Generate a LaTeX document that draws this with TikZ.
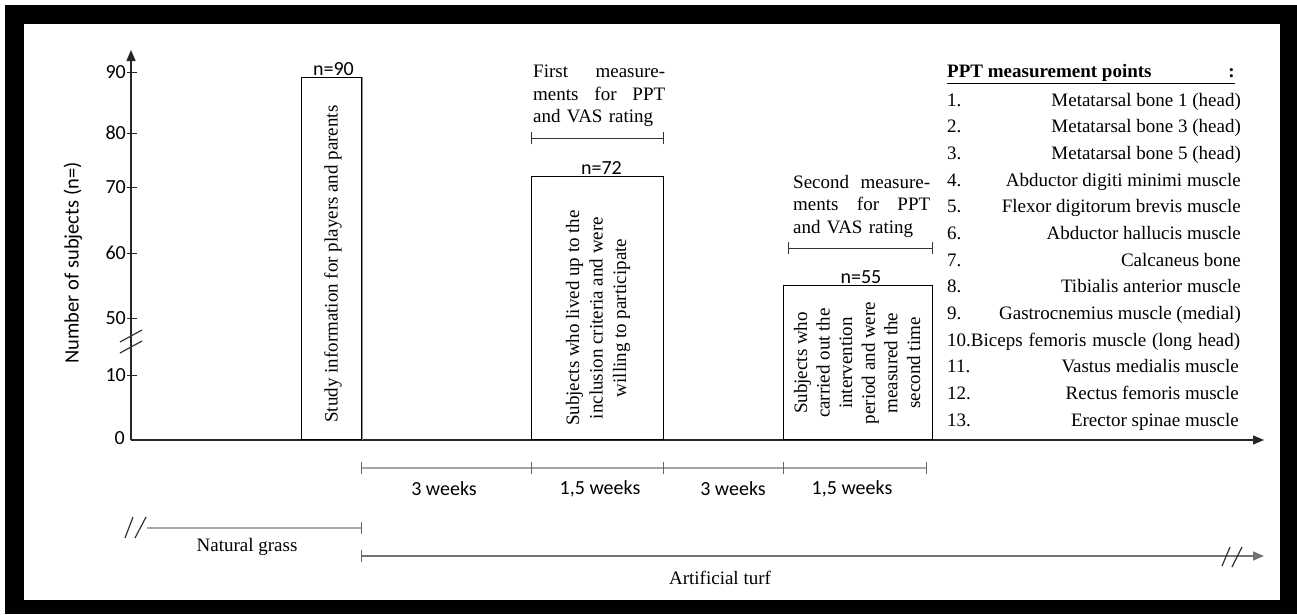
\documentclass[tikz,border=0pt]{standalone}
\usepackage{fontspec}
\setmainfont{Liberation Serif}
\newfontfamily\carl{Carlito}
\usetikzlibrary{arrows.meta}
\begin{document}
\begin{tikzpicture}[x=1pt,y=-1pt,
  serif/.style={font=\fontsize{19}{23}\selectfont, inner sep=0pt},
  sans/.style={font=\carl\fontsize{20}{24}\selectfont, inner sep=0pt},
  barbox/.style={draw=black, line width=1pt, minimum width=#1, inner sep=0pt, anchor=south west},
  axis/.style={draw=black!85, line width=1.3pt},
  tip/.style={-{Triangle[length=11pt,width=9pt]}},
  tline/.style={draw=black!35, line width=1.4pt},
  tick/.style={draw=black!60, line width=1pt},
  slash/.style={draw=black!80, line width=1.2pt},
  bracket/.style={draw=black!80, line width=1pt}]
\useasboundingbox (0,0) rectangle (1297,614);
\fill[black] (5,5) rectangle (1297,614);
\fill[white] (24,24) rectangle (1280,600);

% axes
\coordinate (O) at (131,440);
\coordinate (Ytop) at (131,50);
\coordinate (Xend) at (1264,440);
\draw[axis,tip] (O) -- (Ytop);
\draw[axis,tip] (O) -- (Xend);
\foreach \v/\yy in {90/72,80/133,70/187,60/253,50/318,10/375}{
  \draw[axis,line width=1pt] (127,\yy) -- (137,\yy);
  \node[sans,anchor=east] at (126,\yy) {\v};
}
\node[sans,anchor=east] (zero) at (125,438) {0};
\draw[slash] (120,342) -- (142,330);
\draw[slash] (120,353) -- (142,341);
\node[sans,rotate=90,font=\carl\fontsize{20.5}{24}\selectfont] (ylab) at (73,263) {Number of subjects (n=)};

% bars
\node[barbox=60pt, minimum height=362pt] (b1) at (301,440) {};
\draw[draw=black!45, line width=1pt] (b1.south east) -- (b1.north east);
\node[barbox=132pt, minimum height=263pt] (b2) at (531,440) {};
\node[barbox=149pt, minimum height=154pt] (b3) at (783,440) {};
\node[sans,anchor=south,yshift=1.5pt,xshift=2pt] (n1) at (b1.north) {n=90};
\node[sans,anchor=south,yshift=1.5pt,xshift=4pt] (n2) at (b2.north) {n=72};
\node[sans,anchor=south,yshift=1.5pt,xshift=3pt] (n3) at (b3.north) {n=55};
\node[serif,rotate=90] (t1) at (333,264) {Study information for players and parents};
\node[serif,rotate=90,align=center,font=\fontsize{19}{23.5}\selectfont] (t2) at (598,318)
  {Subjects who lived up to the\\inclusion criteria and were\\willing to participate};
\node[serif,rotate=90,align=center,font=\fontsize{19}{22.6}\selectfont] (t3) at (857,363)
  {Subjects who\\carried out the\\intervention\\period and were\\measured the\\second time};

% measurement brackets
\coordinate (m1a) at (531,138); \coordinate (m1b) at (663,138);
\draw[bracket] (m1a) -- (m1b);
\draw[bracket] ([yshift=-6pt]m1a) -- ([yshift=6pt]m1a);
\draw[bracket] ([yshift=-6pt]m1b) -- ([yshift=6pt]m1b);
\node[serif,text width=132pt,anchor=north west,font=\fontsize{19}{22.5}\selectfont] (f1) at (533,65)
  {First\hfill measure-\\ments\hfill for\hfill PPT\\and VAS rating};
\coordinate (m2a) at (788,248); \coordinate (m2b) at (932,248);
\draw[bracket] (m2a) -- (m2b);
\draw[bracket] ([yshift=-6pt]m2a) -- ([yshift=6pt]m2a);
\draw[bracket] ([yshift=-6pt]m2b) -- ([yshift=6pt]m2b);
\node[serif,text width=137pt,anchor=north west,font=\fontsize{19}{22.5}\selectfont] (f2) at (793,175)
  {Second\hfill measure-\\ments\hfill for\hfill PPT\\and VAS rating};

% weeks timeline
\coordinate (w0) at (361,468); \coordinate (w1) at (531,468); \coordinate (w2) at (663,468);
\coordinate (w3) at (783,468); \coordinate (w4) at (926,468);
\draw[tline] (w0) -- (w4);
\foreach \p in {w0,w1,w2,w3,w4}{\draw[tick] ([yshift=-6pt]\p) -- ([yshift=6pt]\p);}
\node[sans] (l1) at (444,489) {3 weeks};
\node[sans] (l2) at (600,489) {1,5 weeks};
\node[sans] (l3) at (733,489) {3 weeks};
\node[sans] (l4) at (852,489) {1,5 weeks};

% surfaces
\coordinate (g0) at (147,528); \coordinate (g1) at (361,528);
\draw[tline] (g0) -- (g1);
\draw[tick] ([yshift=-6pt]g1) -- ([yshift=6pt]g1);
\draw[slash] (125,538) -- (133,517);
\draw[slash] (135,538) -- (146,517);
\node[serif] (ng) at (247,547) {Natural grass};
\coordinate (a0) at (361,556); \coordinate (a1) at (1264,556);
\draw[draw=black!55,line width=1.4pt,tip] (a0) -- (a1);
\draw[tick] ([yshift=-6pt]a0) -- ([yshift=6pt]a0);
\draw[slash] (1222,566) -- (1230,547);
\draw[slash] (1232,567) -- (1242,547);
\node[serif] (at) at (720,578) {Artificial turf};

% list
\node[serif,anchor=west,font=\bfseries\fontsize{19}{23}\selectfont] (ttl) at (947,73) {PPT measurement points};
\node[serif,anchor=east,font=\bfseries\fontsize{19}{23}\selectfont] (col) at (1235,73) {:};
\draw[black,line width=1pt] (947,83) -- (1235,83);
\foreach \i/\txt [count=\k] in {1./Metatarsal bone 1 (head),2./Metatarsal bone 3 (head),3./Metatarsal bone 5 (head),4./Abductor digiti minimi muscle,5./Flexor digitorum brevis muscle,6./Abductor hallucis muscle,7./Calcaneus bone,8./Tibialis anterior muscle,9./Gastrocnemius muscle (medial)}{
  \node[serif,anchor=base west] at (947,{106+26.67*(\k-1)}) {\i};
  \node[serif,anchor=base east] at (1241,{106+26.67*(\k-1)}) {\txt};
}
\node[serif,anchor=base west,text width=293pt] (i10) at (947,346)
  {10.Biceps\hfill femoris\hfill muscle\hfill (long\hfill head)};
\foreach \i/\txt [count=\k] in {11./Vastus medialis muscle,12./Rectus femoris muscle,13./Erector spinae muscle}{
  \node[serif,anchor=base west] at (947,{372.7+26.67*(\k-1)}) {\i};
  \node[serif,anchor=base east] at (1239,{372.7+26.67*(\k-1)}) {\txt};
}
\end{tikzpicture}
\end{document}
